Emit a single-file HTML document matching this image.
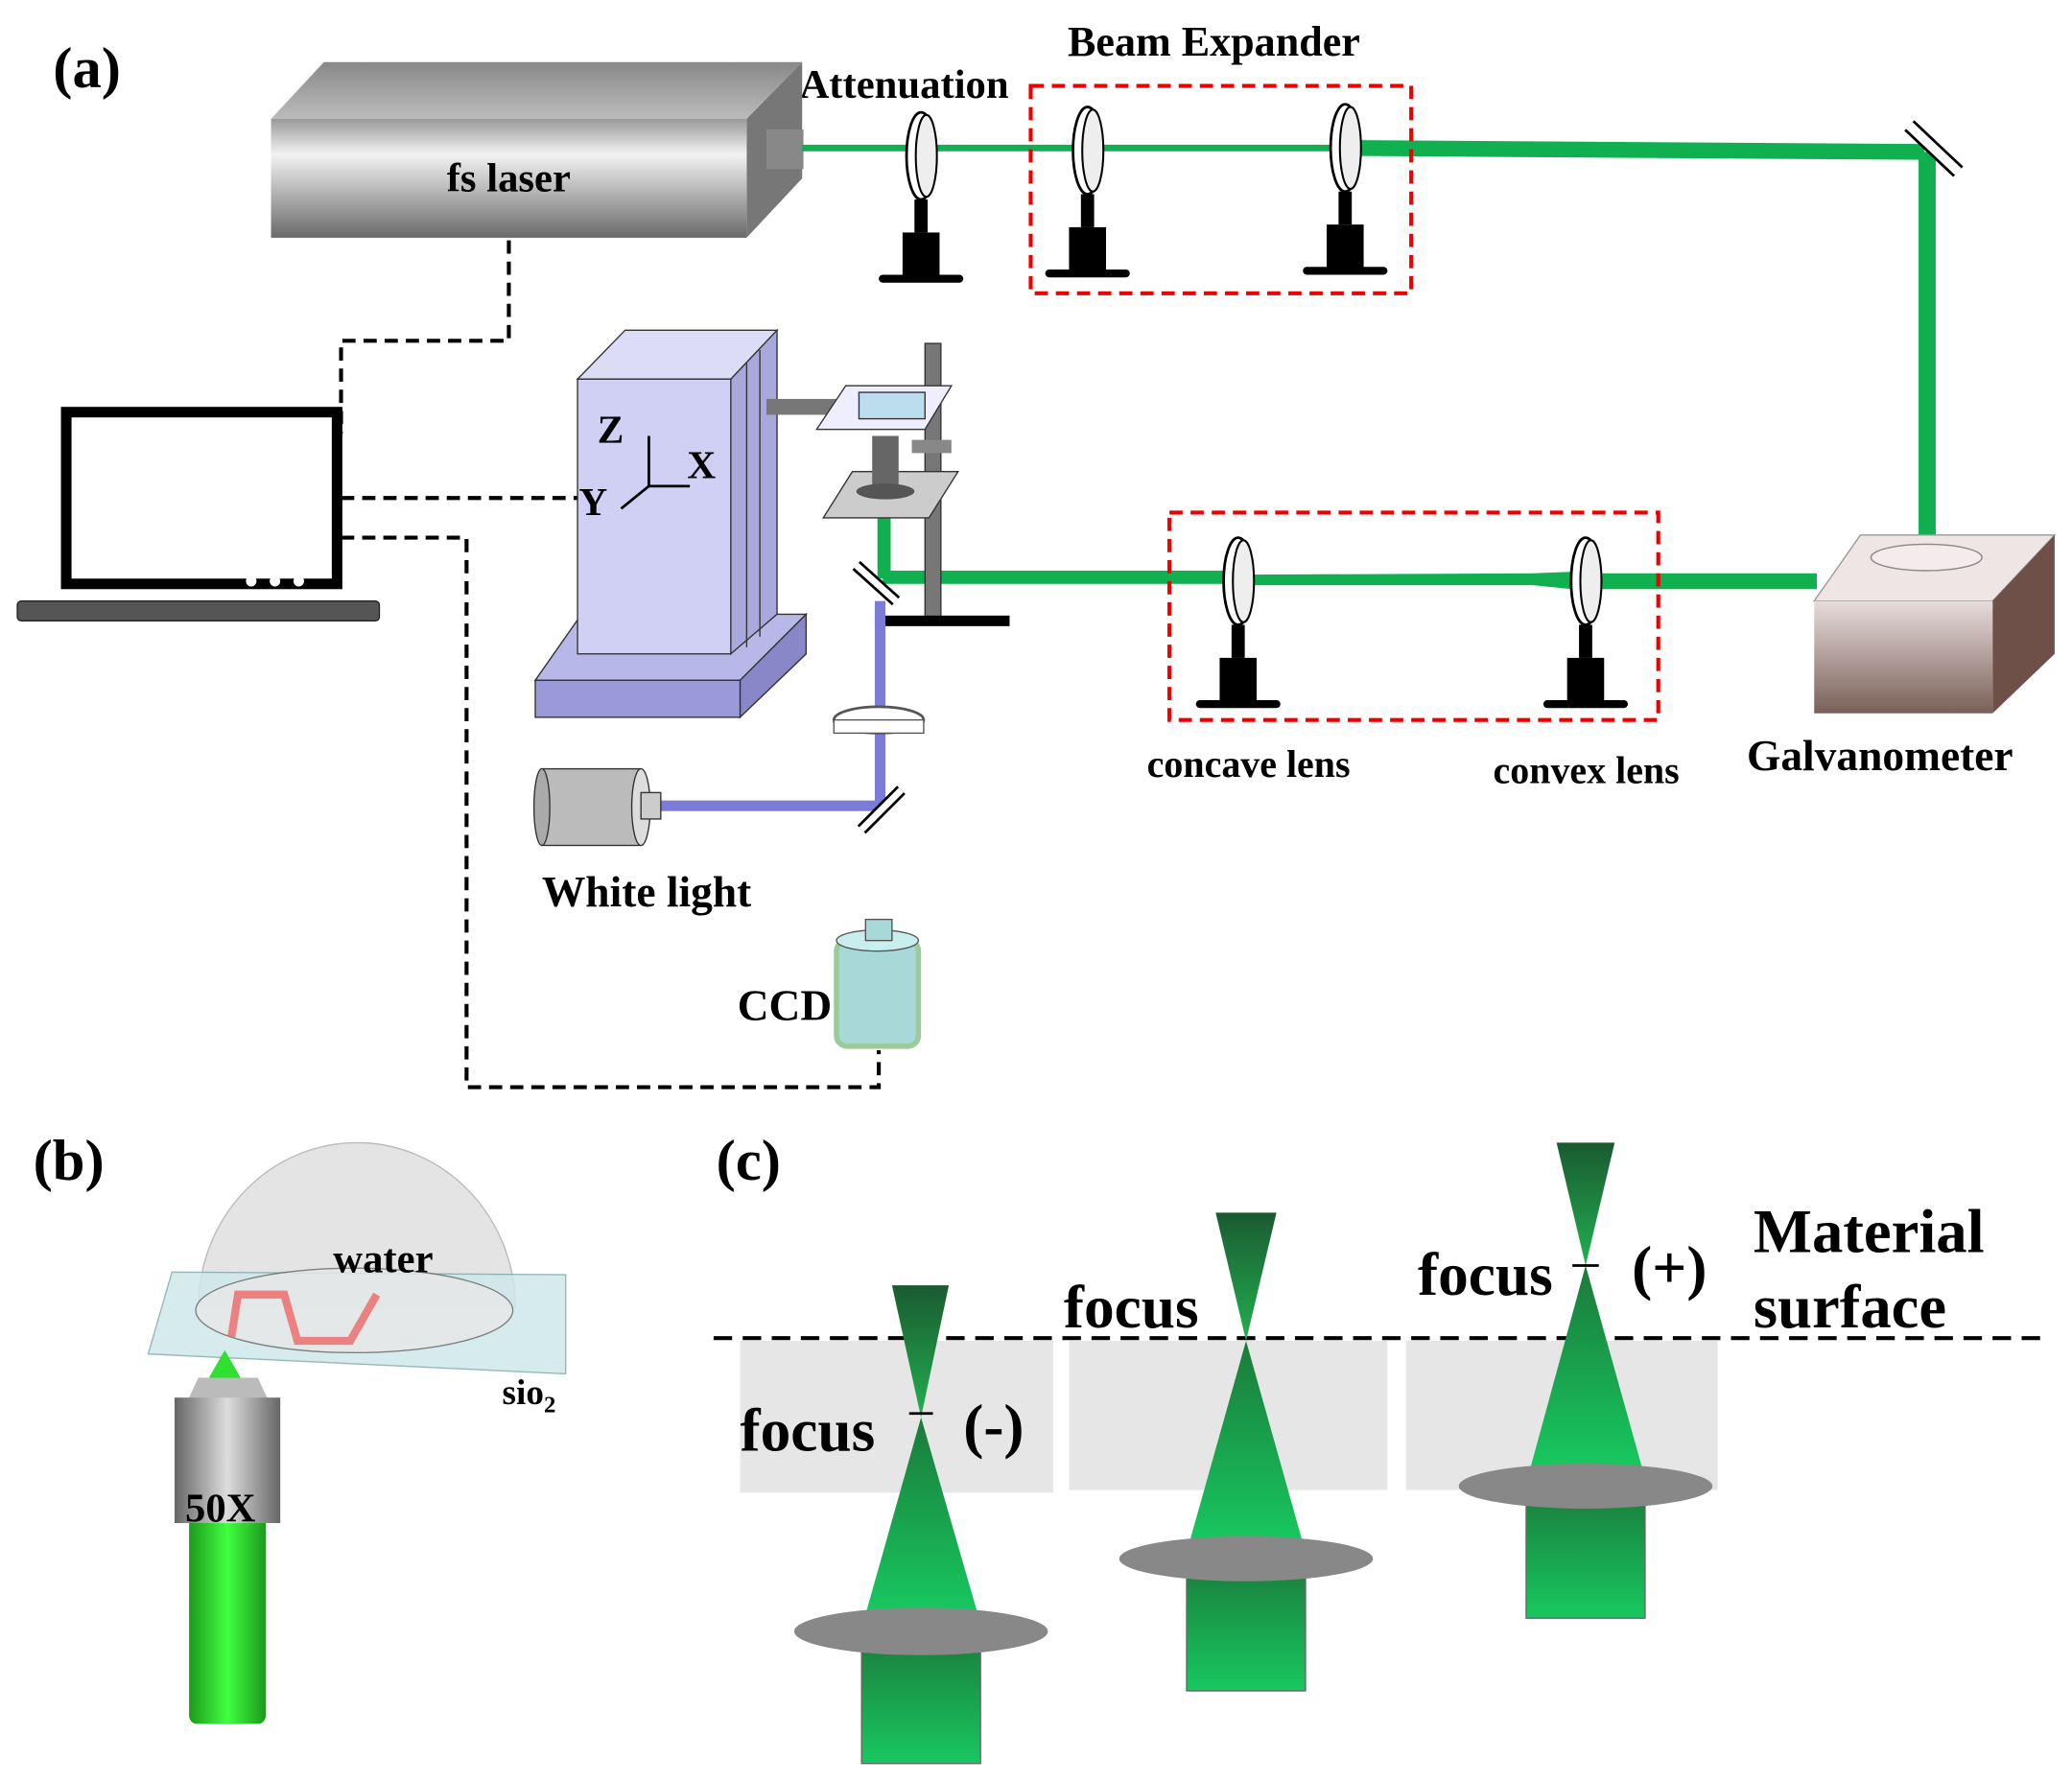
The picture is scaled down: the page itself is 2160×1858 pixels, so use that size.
<!DOCTYPE html>
<html><head><meta charset="utf-8"><style>html,body{margin:0;padding:0;background:#fff}svg{display:block}text{font-family:"Liberation Serif",serif;font-weight:bold;fill:#000}</style></head><body>
<svg width="2160" height="1858" viewBox="0 0 1568 1349" xmlns="http://www.w3.org/2000/svg">
<defs>
<linearGradient id="lg" x1="0" y1="0" x2="0" y2="1"><stop offset="0" stop-color="#9a9a9a"/><stop offset="0.3" stop-color="#f2f2f2"/><stop offset="1" stop-color="#6a6a6a"/></linearGradient>
<linearGradient id="lt" x1="0" y1="0" x2="0" y2="1"><stop offset="0" stop-color="#888"/><stop offset="1" stop-color="#bbb"/></linearGradient>
<linearGradient id="gb" x1="0" y1="0" x2="0" y2="1"><stop offset="0" stop-color="#e8dcdc"/><stop offset="1" stop-color="#7a6058"/></linearGradient>
<linearGradient id="gc" x1="0" y1="0" x2="0" y2="1"><stop offset="0" stop-color="#1a7a3a"/><stop offset="1" stop-color="#18c860"/></linearGradient>
<linearGradient id="gc2" x1="0" y1="0" x2="0" y2="1"><stop offset="0" stop-color="#1a5a30"/><stop offset="1" stop-color="#22b050"/></linearGradient>
<linearGradient id="cyl" x1="0" y1="0" x2="1" y2="0"><stop offset="0" stop-color="#1c9a1c"/><stop offset="0.5" stop-color="#40ff40"/><stop offset="1" stop-color="#1c9a1c"/></linearGradient>
<linearGradient id="obj" x1="0" y1="0" x2="1" y2="0"><stop offset="0" stop-color="#666"/><stop offset="0.5" stop-color="#ddd"/><stop offset="1" stop-color="#666"/></linearGradient>
<g id="lens"><ellipse cx="0" cy="0" rx="11" ry="33" fill="#fff" stroke="#000" stroke-width="2"/><ellipse cx="4" cy="0" rx="8" ry="31" fill="#eee" stroke="#000" stroke-width="1.5"/><rect x="-5" y="33" width="10" height="25" fill="#000"/><rect x="-14" y="58" width="28" height="34" fill="#000"/><rect x="-32" y="90" width="64" height="6" rx="3" fill="#000"/></g>
</defs>
<text x="40" y="66" font-size="44">(a)</text>
<text x="808" y="42" font-size="32">Beam Expander</text>
<text x="605" y="74" font-size="31">Attenuation</text>
<polygon points="205,90 245,47 607,47 565,90" fill="url(#lt)"/>
<polygon points="565,90 607,47 607,135 565,180" fill="#777"/>
<rect x="205" y="90" width="360" height="90" fill="url(#lg)"/>
<rect x="580" y="98" width="28" height="30" fill="#888"/>
<text x="338" y="145" font-size="31">fs laser</text>
<line x1="607" y1="112" x2="1020" y2="112" stroke="#10b050" stroke-width="5"/>
<polygon points="1020,106 1455,109 1458,121 1020,118" fill="#10b050"/>
<rect x="1452" y="115" width="13" height="300" fill="#10b050"/>
<line x1="1445" y1="95" x2="1482" y2="130" stroke="#000" stroke-width="11"/><line x1="1445" y1="95" x2="1482" y2="130" stroke="#fff" stroke-width="7"/>
<polygon points="1375,434 1210,434 1210,446 1375,446" fill="#10b050"/>
<polygon points="1210,432 1160,434 945,435 945,443 1160,443 1210,448" fill="#10b050"/>
<rect x="668" y="432" width="280" height="10" fill="#10b050"/>
<rect x="664" y="388" width="10" height="50" fill="#10b050"/>
<use href="#lens" x="697" y="118"/>
<use href="#lens" x="823" y="114"/>
<use href="#lens" x="1018" y="112"/>
<use href="#lens" x="937" y="440"/>
<use href="#lens" x="1200" y="440"/>
<rect x="780" y="65" width="288" height="157" fill="none" stroke="#e00" stroke-width="3" stroke-dasharray="10,6"/>
<rect x="885" y="388" width="370" height="157" fill="none" stroke="#e00" stroke-width="3" stroke-dasharray="10,6"/>
<text x="868" y="588" font-size="29">concave lens</text>
<text x="1130" y="593" font-size="29">convex lens</text>
<text x="1322" y="583" font-size="33">Galvanometer</text>
<polygon points="1373,455 1408,405 1555,405 1508,455" fill="#efe5e5" stroke="#999"/>
<polygon points="1508,455 1555,405 1555,495 1508,540" fill="#6e5048"/>
<rect x="1373" y="455" width="135" height="85" fill="url(#gb)"/>
<ellipse cx="1458" cy="422" rx="42" ry="10" fill="#f4ecec" stroke="#888"/>
<g fill="none" stroke="#000" stroke-width="3" stroke-dasharray="10,6">
<polyline points="385,182 385,258 258,258 258,328"/>
<line x1="258" y1="377" x2="440" y2="377"/>
<polyline points="258,407 353,407 353,823 665,823 665,795"/>
</g>
<rect x="50" y="312" width="205" height="130" fill="#fff" stroke="#000" stroke-width="8"/>
<circle cx="190" cy="440" r="4" fill="#fff"/><circle cx="208" cy="440" r="4" fill="#fff"/><circle cx="226" cy="440" r="4" fill="#fff"/>
<rect x="13" y="455" width="274" height="15" rx="3" fill="#555" stroke="#222"/>
<polygon points="405,515 440,465 610,465 560,515" fill="#b8b8e8" stroke="#333"/>
<polygon points="560,515 610,465 610,495 560,543" fill="#8888c8" stroke="#333"/>
<rect x="405" y="515" width="155" height="28" fill="#9a9ad8" stroke="#333"/>
<polygon points="437,287 473,250 588,250 553,287" fill="#dcdcf6" stroke="#333"/>
<polygon points="553,287 588,250 588,465 553,495" fill="#a8a8dc" stroke="#333"/>
<rect x="437" y="287" width="116" height="208" fill="#d0d0f4" stroke="#333"/>
<line x1="565" y1="275" x2="565" y2="490" stroke="#333"/><line x1="575" y1="265" x2="575" y2="482" stroke="#333"/>
<rect x="580" y="302" width="55" height="12" fill="#777"/>
<text x="452" y="335" font-size="30">Z</text><text x="520" y="362" font-size="30">X</text><text x="438" y="390" font-size="30">Y</text>
<g stroke="#000" stroke-width="2" fill="none"><polyline points="491,330 491,368 522,368"/><line x1="491" y1="368" x2="470" y2="385"/></g>
<rect x="700" y="260" width="12" height="210" fill="#777" stroke="#333"/>
<rect x="662" y="466" width="102" height="8" fill="#000"/>
<polygon points="618,325 640,292 720,292 700,325" fill="#eef" stroke="#333"/>
<rect x="650" y="297" width="50" height="20" fill="#bde" stroke="#333"/>
<polygon points="623,392 645,357 725,357 703,392" fill="#ccc" stroke="#333"/>
<rect x="660" y="330" width="20" height="45" fill="#666"/><ellipse cx="670" cy="372" rx="22" ry="6" fill="#555"/>
<rect x="690" y="333" width="30" height="10" fill="#888"/>
<rect x="662" y="455" width="8" height="155" fill="#7b7bd8"/>
<rect x="500" y="606" width="167" height="8" fill="#7b7bd8"/>
<line x1="648" y1="428" x2="678" y2="455" stroke="#000" stroke-width="9"/><line x1="648" y1="428" x2="678" y2="455" stroke="#fff" stroke-width="5"/>
<line x1="652" y1="628" x2="682" y2="598" stroke="#000" stroke-width="9"/><line x1="652" y1="628" x2="682" y2="598" stroke="#fff" stroke-width="5"/>
<ellipse cx="665" cy="545" rx="34" ry="10" fill="#fff" stroke="#555" stroke-width="2"/>
<rect x="631" y="545" width="68" height="10" fill="#fff" stroke="#555"/>
<rect x="410" y="582" width="75" height="58" fill="#bbb" stroke="#333"/>
<ellipse cx="410" cy="611" rx="6" ry="29" fill="#aaa" stroke="#333"/>
<ellipse cx="485" cy="611" rx="7" ry="29" fill="#ddd" stroke="#333"/>
<rect x="485" y="600" width="15" height="20" fill="#ccc" stroke="#333"/>
<text x="410" y="686" font-size="33">White light</text>
<rect x="633" y="712" width="62" height="80" rx="8" fill="#a8d8d8" stroke="#9c9" stroke-width="4"/>
<ellipse cx="664" cy="712" rx="31" ry="8" fill="#c8eeee" stroke="#555"/>
<rect x="655" y="696" width="20" height="16" fill="#a8d8d8" stroke="#555"/>
<text x="558" y="772" font-size="33">CCD</text>
<text x="25" y="893" font-size="44">(b)</text>
<path d="M150,990 A120,125 0 0 1 390,990 Z" fill="#e4e4e4" stroke="#bbb"/>
<polygon points="112,1025 130,963 428,965 428,1040" fill="#cfe8ea" stroke="#8aa" opacity="0.85"/>
<ellipse cx="268" cy="992" rx="120" ry="32" fill="#e8e8e8" stroke="#666" opacity="0.8"/>
<g stroke="#e66" stroke-width="6" fill="none" opacity="0.8"><polyline points="175,1012 180,980 215,980 225,1015 265,1015 285,980"/></g>
<text x="252" y="963" font-size="31">water</text>
<text x="380" y="1063" font-size="27">sio<tspan font-size="18" dy="6">2</tspan></text>
<polygon points="158,1043 170,1022 182,1043" fill="#30e030"/>
<rect x="143" y="1140" width="58" height="165" rx="6" fill="url(#cyl)"/>
<polygon points="142,1060 150,1043 195,1043 203,1060" fill="#bbb"/>
<rect x="132" y="1058" width="80" height="95" fill="url(#obj)"/>
<text x="140" y="1152" font-size="31">50X</text>
<text x="542" y="893" font-size="44">(c)</text>
<rect x="560" y="1015" width="237" height="115" fill="#e6e6e6"/>
<rect x="809" y="1015" width="241" height="113" fill="#e6e6e6"/>
<rect x="1064" y="1015" width="236" height="113" fill="#e6e6e6"/>
<line x1="540" y1="1013" x2="1552" y2="1013" stroke="#000" stroke-width="3" stroke-dasharray="14,8"/>
<rect x="652" y="1235" width="90" height="100" fill="url(#gc)" stroke="#666"/>
<polygon points="675,973 718,973 697,1073" fill="url(#gc2)"/>
<polygon points="697,1073 655,1222 740,1222" fill="url(#gc)"/>
<ellipse cx="697" cy="1235" rx="96" ry="18" fill="#888"/>
<rect x="898" y="1180" width="90" height="100" fill="url(#gc)" stroke="#666"/>
<polygon points="920,918 966,918 943,1015" fill="url(#gc2)"/>
<polygon points="943,1015 900,1168 986,1168" fill="url(#gc)"/>
<ellipse cx="943" cy="1180" rx="96" ry="17" fill="#888"/>
<rect x="1155" y="1125" width="90" height="100" fill="url(#gc)" stroke="#666"/>
<polygon points="1178,865 1222,865 1200,958" fill="url(#gc2)"/>
<polygon points="1200,958 1158,1112 1243,1112" fill="url(#gc)"/>
<ellipse cx="1200" cy="1125" rx="96" ry="17" fill="#888"/>
<text x="560" y="1098" font-size="46">focus</text><text x="729" y="1095" font-size="46">(-)</text>
<line x1="688" y1="1070" x2="706" y2="1070" stroke="#000" stroke-width="2"/>
<text x="805" y="1005" font-size="46">focus</text>
<text x="1073" y="980" font-size="46">focus</text><text x="1235" y="975" font-size="46">(+)</text>
<line x1="1190" y1="958" x2="1210" y2="958" stroke="#000" stroke-width="2"/>
<text x="1327" y="948" font-size="47">Material</text>
<text x="1327" y="1005" font-size="47">surface</text>
</svg>
</body></html>
